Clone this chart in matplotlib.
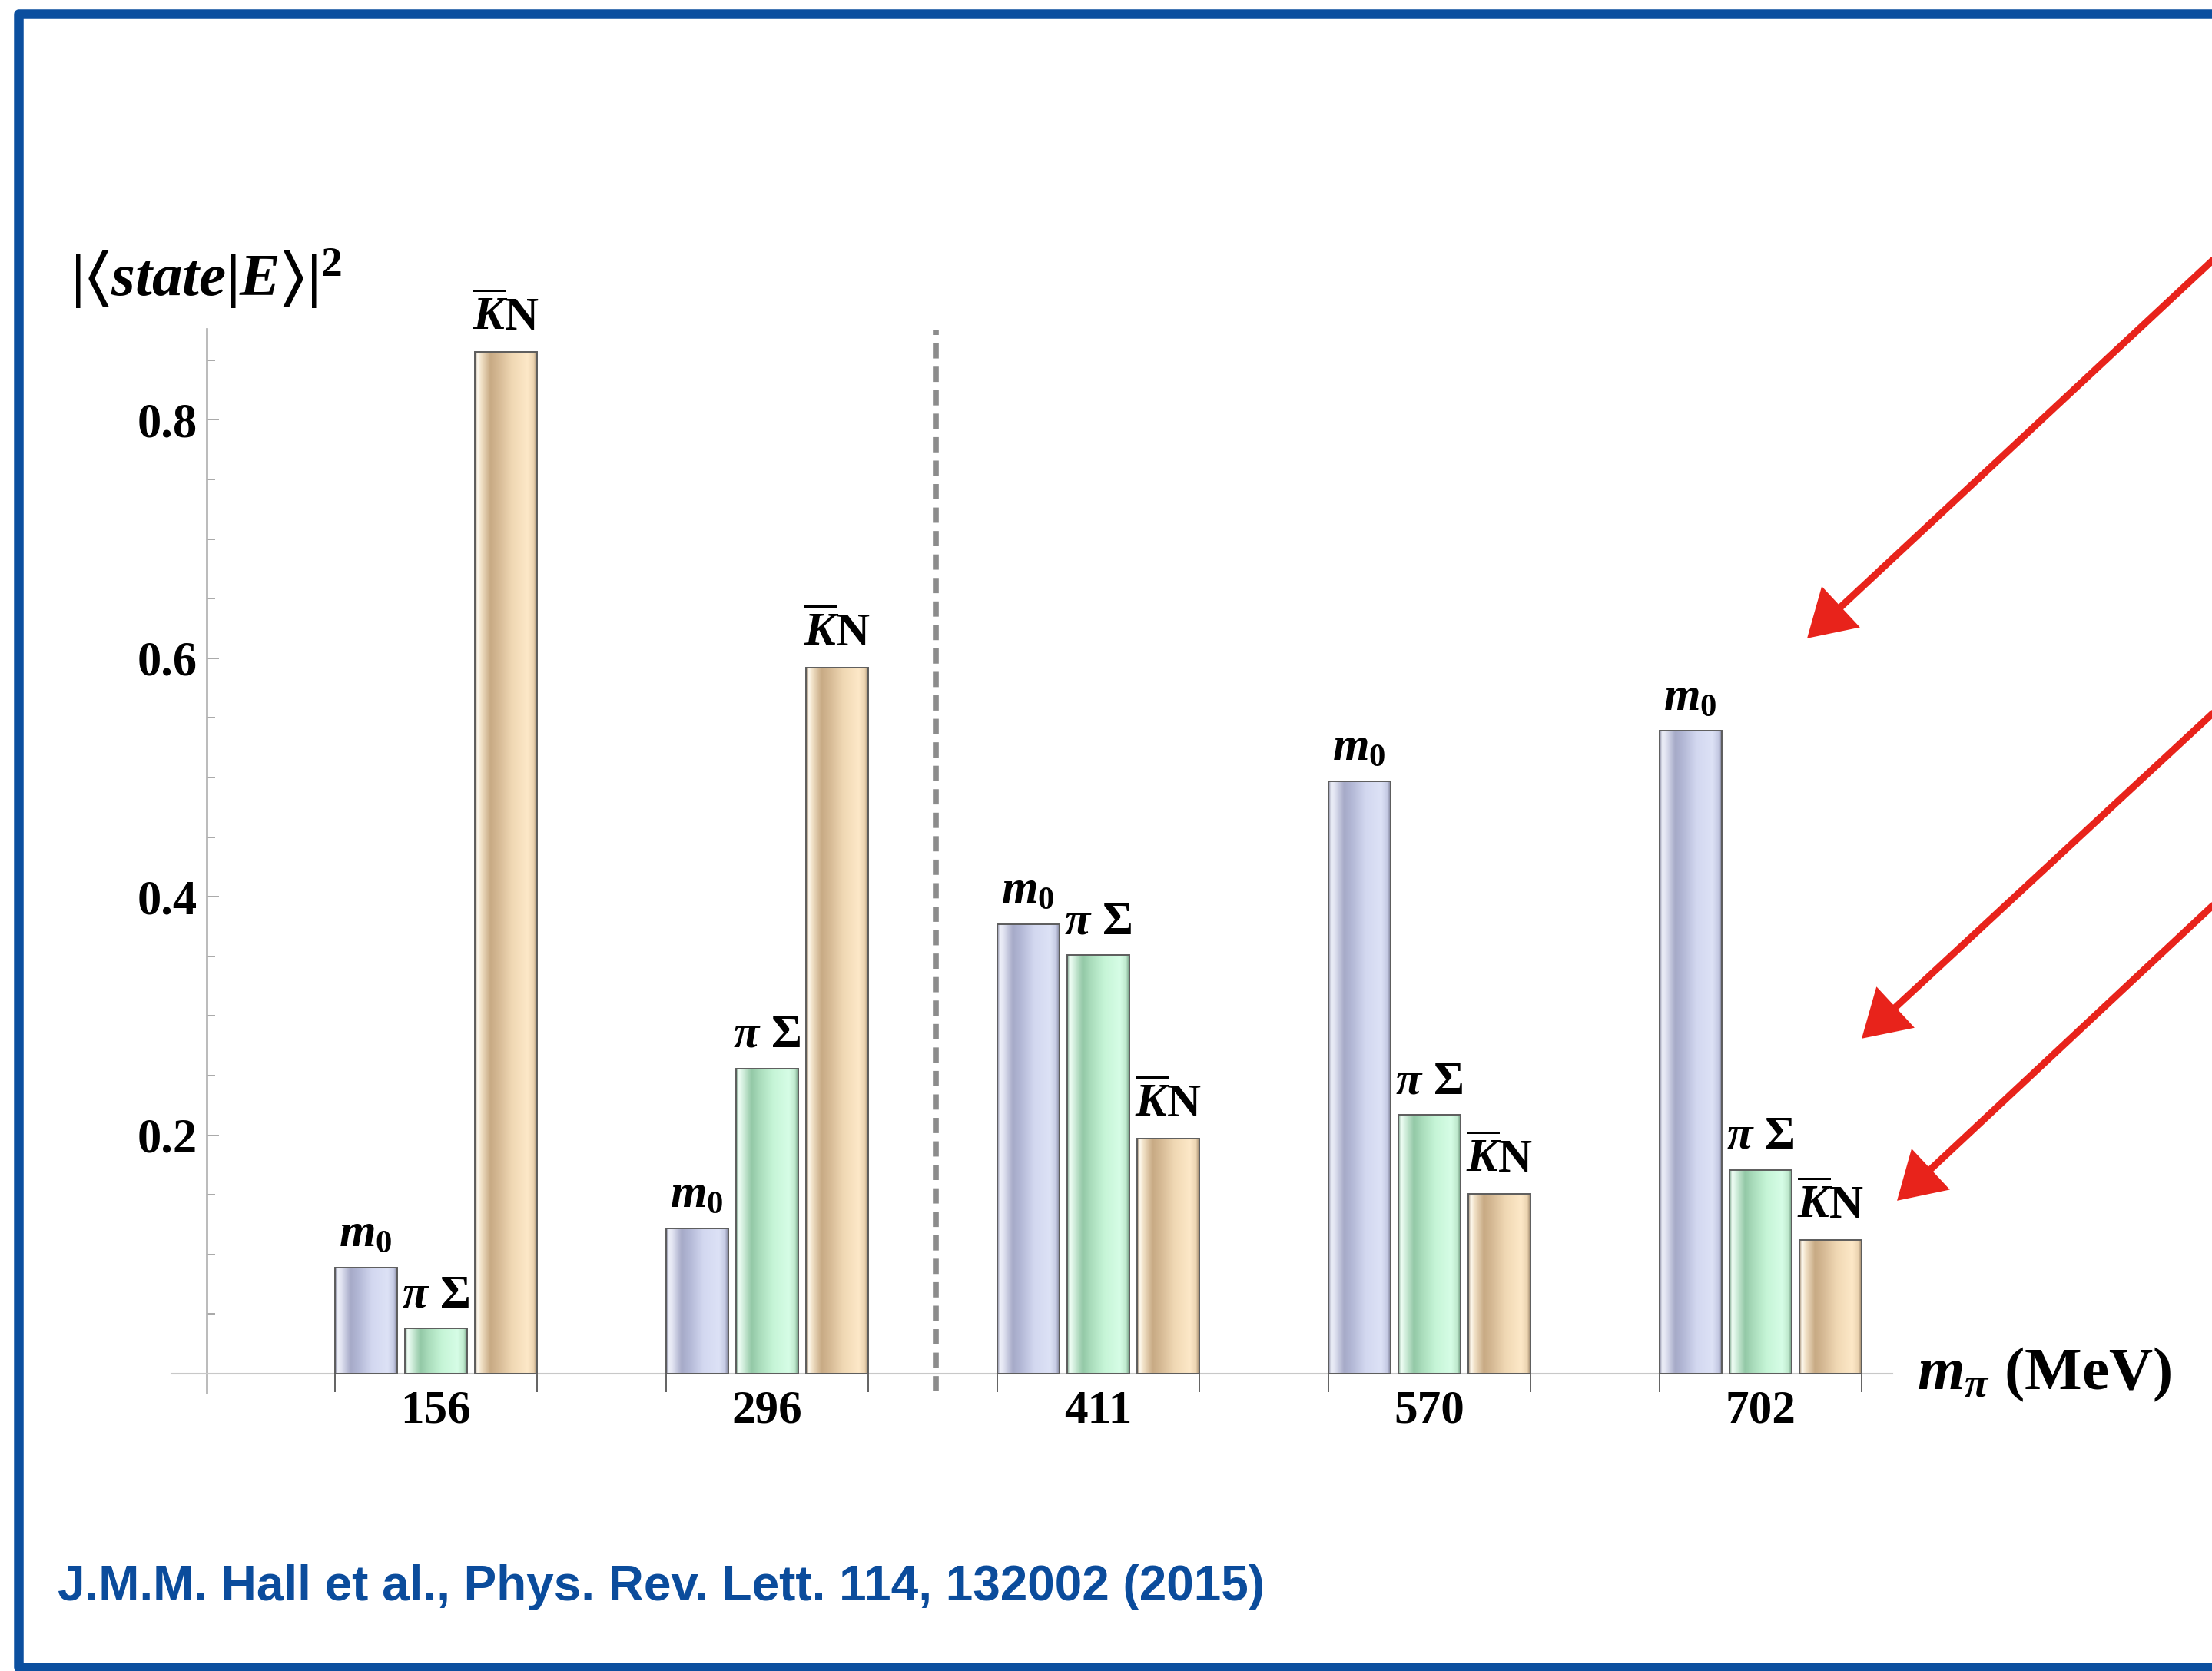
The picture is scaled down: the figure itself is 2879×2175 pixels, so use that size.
import matplotlib.pyplot as plt
import numpy as np
from matplotlib.colors import LinearSegmentedColormap
from matplotlib.patches import Polygon

# data
pion_masses = ['156', '296', '411', '570', '702']
m0_weight = [0.089, 0.122, 0.377, 0.497, 0.539]
pisigma_weight = [0.038, 0.256, 0.351, 0.217, 0.171]
kbarn_weight = [0.857, 0.592, 0.197, 0.151, 0.112]
state_labels = [r'$m_0$', r'$\pi\ \Sigma$', r'$\overline{K}$N']
citation = 'J.M.M. Hall et al., Phys. Rev. Lett. 114, 132002 (2015)'

# fonts: Times-like bold everywhere, math in bold italic
plt.rcParams['font.family'] = ['Liberation Serif', 'DejaVu Serif']
plt.rcParams['font.weight'] = 'bold'
plt.rcParams['mathtext.fontset'] = 'custom'
plt.rcParams['mathtext.rm'] = 'Liberation Serif:bold'
plt.rcParams['mathtext.it'] = 'Liberation Serif:italic:bold'
plt.rcParams['mathtext.bf'] = 'Liberation Serif:bold'
plt.rcParams['mathtext.fallback'] = 'stix'

W, H = 2879, 2175
fig = plt.figure(figsize=(W / 100, H / 100), dpi=100)

# layout in pixels of the original picture
left_px, right_px = 223, 2463
top_px, zero_px, px_per_unit = 428, 1788, 1552
first_px, pitch_px = 567, 431
ylo = -0.09
yhi = (zero_px - top_px) / px_per_unit
bottom_px = zero_px - ylo * px_per_unit

ax = fig.add_axes([left_px / W, 1 - bottom_px / H,
                   (right_px - left_px) / W, (bottom_px - top_px) / H])

# cylinder-like shading of the bars
stops = [0.0, 0.04, 0.10, 0.25, 0.38, 0.60, 0.85, 0.95, 1.0]
cmaps = [
    LinearSegmentedColormap.from_list('m0', list(zip(stops, [
        '#7d8098', '#eef0f9', '#e2e4f2', '#a6aac8', '#b3b8d6',
        '#d3d8f0', '#dde2f6', '#c4c9e3', '#7d8098']))),
    LinearSegmentedColormap.from_list('ps', list(zip(stops, [
        '#6f9a80', '#f2fff7', '#d8f2e2', '#93c8a6', '#a9dcbb',
        '#c6f5d7', '#d6fde6', '#bfe9cd', '#6f9a80']))),
    LinearSegmentedColormap.from_list('kn', list(zip(stops, [
        '#9a8468', '#fffbf2', '#f2e2c8', '#c8aa84', '#d5b994',
        '#f0d8b4', '#fde8c8', '#ecd4b1', '#9a8468']))),
]
grad = np.linspace(0, 1, 256)[None, :]

x = np.arange(len(pion_masses))
offset = 91 / pitch_px
width = 81 / pitch_px
series = [m0_weight, pisigma_weight, kbarn_weight]

for k, (vals, cmap, lab) in enumerate(zip(series, cmaps, state_labels)):
    bars = ax.bar(x + (k - 1) * offset, vals, width, facecolor='none',
                  edgecolor='#5c5c5c', linewidth=1.4, zorder=3)
    for b in bars:
        bx, bw, bh = b.get_x(), b.get_width(), b.get_height()
        im = ax.imshow(grad, extent=(bx, bx + bw, 0, bh), aspect='auto',
                       cmap=cmap, interpolation='bicubic', zorder=2)
        im.set_clip_path(b)
        ax.text(bx + bw / 2, bh + 0.018, lab, ha='center', va='baseline',
                fontsize=44, zorder=4)

# dashed separator between the two lightest and the heavier masses
sep = 1.51
ax.plot([sep, sep], [-0.015, 0.875], color='#8c8c8c', lw=5.5,
        dashes=(2.6, 1.4), zorder=1)

ax.set_xlim((left_px - first_px) / pitch_px, (right_px - first_px) / pitch_px)
ax.set_ylim(ylo, yhi)
ax.patch.set_alpha(0)

for s in ['top', 'right']:
    ax.spines[s].set_visible(False)
ax.spines['left'].set_position(('data', (269 - first_px) / pitch_px))
ax.spines['left'].set_bounds(-0.016, yhi)
ax.spines['left'].set_color('#b4b4b4')
ax.spines['left'].set_linewidth(2)
ax.spines['bottom'].set_position(('data', 0))
ax.spines['bottom'].set_color('#c8c8c8')
ax.spines['bottom'].set_linewidth(1.5)

ax.set_yticks([0.2, 0.4, 0.6, 0.8])
ax.set_yticklabels(['0.2', '0.4', '0.6', '0.8'])
ax.set_yticks(np.arange(0.05, 0.851, 0.05), minor=True)
ax.tick_params(axis='y', which='major', direction='in', length=11.5,
               width=1.2, color='#9a9a9a', pad=8.5, labelsize=45)
ax.tick_params(axis='y', which='minor', direction='in', length=8,
               width=1.2, color='#9a9a9a')

edge = offset + width / 2
ax.set_xticks(x)
ax.set_xticklabels(pion_masses)
ax.set_xticks(np.concatenate([x - edge, x + edge]), minor=True)
ax.tick_params(axis='x', which='major', length=0, pad=15, labelsize=44)
ax.tick_params(axis='x', which='minor', direction='out', length=17,
               width=1.3, color='#555555')

# overlay in picture pixels for labels and decorations
deco = fig.add_axes([0, 0, 1, 1], zorder=5)
deco.set_xlim(0, W)
deco.set_ylim(H, 0)
deco.axis('off')
deco.patch.set_alpha(0)

deco.text(92, 385, r'$|\langle state|E\rangle|^2$', fontsize=57, va='baseline')
deco.text(2495, 1808, r'$m_\pi$ (MeV)', fontsize=57, va='baseline')
deco.text(75, 2083, citation, family='Liberation Sans', weight='bold',
          fontsize=46, color='#0b4c9c', va='baseline')

# blue frame
deco.plot([W + 50, 24, 24, W + 50], [18, 18, 2170, 2170], color='#0b4f9f',
          lw=9, solid_joinstyle='round')

# red arrows
red = '#e8231b'
arrows = [((2900, 320), (2354, 829)), ((2900, 910), (2425, 1350)),
          ((2900, 1160), (2471, 1561))]
for tail, tip in arrows:
    tail, tip = np.array(tail, float), np.array(tip, float)
    u = (tip - tail) / np.linalg.norm(tip - tail)
    n = np.array([-u[1], u[0]])
    base = tip - u * 56
    deco.plot([tail[0], base[0] + u[0] * 6], [tail[1], base[1] + u[1] * 6],
              color=red, lw=6.5, solid_capstyle='round')
    deco.add_patch(Polygon([tip, base + n * 34, base - n * 34], closed=True,
                           facecolor=red, edgecolor=red, lw=2))

fig.savefig('out.png', dpi=100)
